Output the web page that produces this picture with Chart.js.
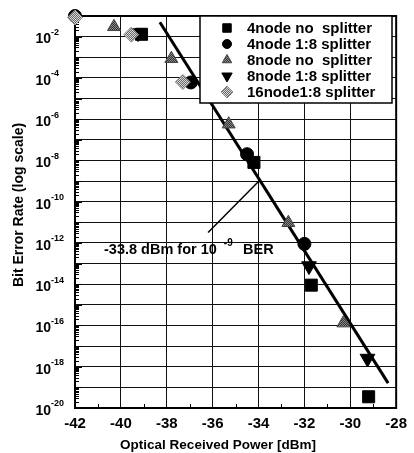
<!DOCTYPE html>
<html>
<head>
<meta charset="utf-8">
<script src="https://cdn.jsdelivr.net/npm/chart.js@4"></script>
<style>html,body{margin:0;padding:0;background:#fff}</style>
</head>
<body>
<canvas id="myChart" width="414" height="453"></canvas>
<script>
var power4NoSplit = [-39.1, -34.2, -31.7, -29.2];
var ber4NoSplit   = [1.3e-2, 8e-9, 9e-15, 3.5e-20];

var power4Split = [-42, -36.95, -34.5, -32.0];
var ber4Split   = [1.0e-1, 6e-5, 2e-8, 9e-13];

var power8NoSplit = [-40.3, -37.8, -35.3, -32.7, -30.3];
var ber8NoSplit   = [3e-2, 8.5e-4, 5.7e-7, 9.5e-12, 1.3e-16];

var power8Split = [-39.25, -31.8, -29.25];
var ber8Split   = [1.5e-2, 7.6e-14, 2.5e-18];

var power16Split = [-42, -39.55, -37.3];
var ber16Split   = [8.5e-2, 1.25e-2, 6.3e-5];

// fitted line and annotation pointer
var fitPower = [-38.3, -28.35];
var fitBer   = [5e-2, 1.6e-19];
var arrowPower = [-36.2, -34.0];
var arrowBer   = [3.2e-12, 9.5e-10];

var seriesNames = ["4node no  splitter", "4node 1:8 splitter", "8node no  splitter", "8node 1:8 splitter", "16node1:8 splitter"];
var xTicks = [-42, -40, -38, -36, -34, -32, -30, -28];
var yExps = [-20, -19, -18, -17, -16, -15, -14, -13, -12, -11, -10, -9, -8, -7, -6, -5, -4, -3, -2, -1];
var yLabelExps = [-2, -4, -6, -8, -10, -12, -14, -16, -18, -20];

var FONT = '"Liberation Sans", Arial, sans-serif';

function pts(xs, ys) {
  return xs.map(function (x, i) { return {x: x, y: ys[i]}; });
}

function pattern(a, b) {
  var c = document.createElement('canvas');
  c.width = 2; c.height = 2;
  var g = c.getContext('2d');
  g.fillStyle = a; g.fillRect(0, 0, 2, 2);
  g.fillStyle = b; g.fillRect(0, 0, 1, 1); g.fillRect(1, 1, 1, 1);
  return g.createPattern(c, 'repeat');
}

var ctx = document.getElementById('myChart').getContext('2d');
var triFill = pattern('#333', '#8a8a8a');
var diaFill = pattern('#6a6a6a', '#d8d8d8');

var styles = [
  {pointStyle: 'rect', radius: 8.5, bg: '#000', bd: '#000', rot: 0},
  {pointStyle: 'circle', radius: 6.5, bg: '#000', bd: '#000', rot: 0},
  {pointStyle: 'triangle', radius: 7.5, bg: triFill, bd: '#444', rot: 0},
  {pointStyle: 'triangle', radius: 8.5, bg: '#000', bd: '#000', rot: 180},
  {pointStyle: 'rectRot', radius: 7.5, bg: diaFill, bd: '#888', rot: 0}
];
var seriesData = [
  pts(power4NoSplit, ber4NoSplit),
  pts(power4Split, ber4Split),
  pts(power8NoSplit, ber8NoSplit),
  pts(power8Split, ber8Split),
  pts(power16Split, ber16Split)
];

var datasets = seriesData.map(function (d, i) {
  return {
    label: seriesNames[i],
    data: d,
    pointStyle: styles[i].pointStyle,
    pointRadius: styles[i].radius,
    pointRotation: styles[i].rot,
    backgroundColor: styles[i].bg,
    borderColor: styles[i].bd,
    borderWidth: 1,
    showLine: false,
    clip: false,
    order: 5 - i
  };
});
datasets.push({
  label: 'fit', data: pts(fitPower, fitBer), showLine: true,
  borderColor: '#000', borderWidth: 3, pointRadius: 0, order: 10
});
datasets.push({
  label: 'arrow', data: pts(arrowPower, arrowBer), showLine: true,
  borderColor: '#000', borderWidth: 1.5, pointRadius: 0, order: 10
});

var decor = {
  id: 'decor',
  beforeDatasetsDraw: function (chart) {
    var c = chart.ctx, a = chart.chartArea, y = chart.scales.y, x = chart.scales.x;
    c.save();
    c.strokeStyle = '#000';
    // log minor ticks on the left edge
    c.lineWidth = 1;
    for (var e = -20; e < -1; e++) {
      for (var k = 1; k < 10; k++) {
        var py = Math.round(y.getPixelForValue(k * Math.pow(10, e))) + 0.5;
        c.beginPath(); c.moveTo(a.left, py); c.lineTo(a.left + (k === 1 ? 7 : 4), py); c.stroke();
      }
    }
    // odd dBm minor ticks on the bottom
    for (var v = -41; v < -28; v += 2) {
      var px = Math.round(x.getPixelForValue(v)) + 0.5;
      c.beginPath(); c.moveTo(px, a.bottom); c.lineTo(px, a.bottom - 4); c.stroke();
    }
    c.lineWidth = 2;
    c.strokeRect(a.left, a.top, a.right - a.left, a.bottom - a.top);
    c.restore();
  },
  afterDatasetsDraw: function (chart) {
    var c = chart.ctx, y = chart.scales.y;
    c.save();
    c.fillStyle = '#000';
    // y tick labels with superscript exponents
    yLabelExps.forEach(function (e) {
      var py = y.getPixelForValue(Math.pow(10, e));
      c.font = 'bold 14px ' + FONT;
      c.textAlign = 'right'; c.textBaseline = 'middle';
      c.fillText('10', 51, py + 3);
      c.font = 'bold 9px ' + FONT;
      c.textAlign = 'left';
      c.fillText(String(e), 51, py - 4);
    });
    // axis titles
    c.font = 'bold 13.5px ' + FONT;
    c.textAlign = 'center'; c.textBaseline = 'middle';
    c.fillText('Optical Received Power [dBm]', 218, 445);
    c.save();
    c.font = 'bold 14px ' + FONT;
    c.translate(19, 205); c.rotate(-Math.PI / 2);
    c.fillText('Bit Error Rate (log scale)', 0, 0);
    c.restore();
    // annotation
    c.font = 'bold 14.5px ' + FONT;
    c.textAlign = 'left';
    c.fillText('-33.8 dBm for 10', 104, 250);
    var w = c.measureText('-33.8 dBm for 10').width;
    c.font = 'bold 10px ' + FONT;
    c.fillText('-9', 104 + w + 7, 243);
    c.font = 'bold 14.5px ' + FONT;
    c.fillText('BER', 243, 250);
    // legend box
    c.fillStyle = '#fff';
    c.fillRect(200, 16, 192, 87);
    c.strokeStyle = '#000'; c.lineWidth = 1.5;
    c.strokeRect(200, 16, 192, 87);
    var rows = [28, 44, 60, 76, 92];
    var legR = [6, 4.5, 5.5, 6, 6];
    seriesNames.forEach(function (n, i) {
      c.fillStyle = styles[i].bg;
      c.strokeStyle = styles[i].bd; c.lineWidth = 1;
      Chart.helpers.drawPoint(c, {pointStyle: styles[i].pointStyle, radius: legR[i], rotation: styles[i].rot, borderWidth: 1}, 227, rows[i]);
      c.fillStyle = '#000';
      c.font = 'bold 15px ' + FONT;
      c.textAlign = 'left'; c.textBaseline = 'middle';
      c.fillText(n, 247, rows[i] + 1);
    });
    c.restore();
  }
};

var chart = new Chart(ctx, {
  type: 'scatter',
  data: {datasets: datasets},
  options: {
    responsive: false,
    animation: false,
    devicePixelRatio: 1,
    layout: {padding: {left: 0, right: 14, top: 16, bottom: 0}},
    plugins: {legend: {display: false}, tooltip: {enabled: false}},
    scales: {
      x: {
        type: 'linear', min: -42, max: -28,
        afterBuildTicks: function (s) { s.ticks = xTicks.map(function (v) { return {value: v}; }); },
        afterFit: function (s) { s.height = 45; },
        grid: {color: '#111', lineWidth: 1, drawTicks: false},
        border: {display: false},
        ticks: {color: '#000', padding: 7, font: {family: FONT, size: 15, weight: 'bold'}}
      },
      y: {
        type: 'logarithmic', min: 1e-20, max: 1e-1,
        afterBuildTicks: function (s) { s.ticks = yExps.map(function (e) { return {value: Math.pow(10, e)}; }); },
        afterFit: function (s) { s.width = 75; },
        grid: {color: '#111', lineWidth: 1, drawTicks: false},
        border: {display: false},
        ticks: {display: false}
      }
    }
  },
  plugins: [decor]
});
</script>
</body>
</html>
